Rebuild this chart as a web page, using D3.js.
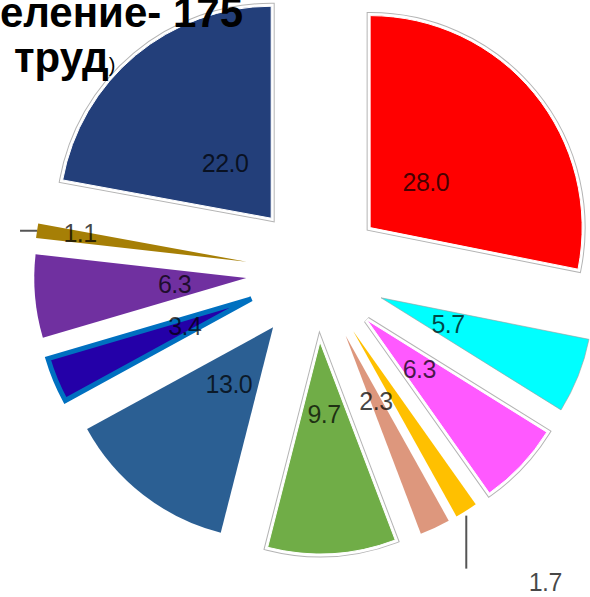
<!DOCTYPE html>
<head>
  <meta charset="utf-8">
  <title>index.html</title>
</head>
<style>
body { margin: 0; background: #fff; }
.title { font-family: "Liberation Sans", Arial, sans-serif; font-weight: bold; fill: #000; }
.lbl { font-family: "Liberation Sans", Arial, sans-serif; font-size: 25px; letter-spacing: -0.5px; fill: #000; fill-opacity: 0.72; }
</style>
<body>
<svg width="590" height="597"></svg>
<script src="https://d3js.org/d3.v7.min.js"></script>
<script>
// slice values (percent), clockwise from 12 o'clock
var values = [28.0, 5.7, 6.3, 1.7, 2.3, 9.7, 13.0, 3.4, 6.3, 1.1, 22.0];
var labels = ["28.0", "5.7", "6.3", "1.7", "2.3", "9.7", "13.0", "3.4", "6.3", "1.1", "22.0"];
var colors = ["#ff0000", "#00ffff", "#ff59ff", "#ffc000", "#dd977d", "#70ad47",
              "#2b5f93", "#2400a8", "#7030a0", "#a67f06", "#233f7a"];
// border kind per slice: "frame" = white + grey, "thin" = grey line, "blue" = thick blue, "" = none
var borders = ["frame", "thin", "frame", "", "", "frame", "", "blue", "", "", "frame"];
var outside = [3, 9];  // labels placed outside with a leader line
var titleLines = ["еление- 175", "труд"];

var svg = d3.select("svg"),
    cx = 316, cy = 272,
    radius = 212,
    explode = 70,
    labelR = 72;

var pie = d3.pie().sort(null).value(function(d) { return d; });
var arcs = pie(values);

var arc = d3.arc().innerRadius(0).outerRadius(radius);
var labelArc = d3.arc().innerRadius(labelR).outerRadius(labelR);

function offset(d) {
  var a = (d.startAngle + d.endAngle) / 2;
  return [cx + explode * Math.sin(a), cy - explode * Math.cos(a)];
}

var g = svg.selectAll("g.slice")
  .data(arcs)
  .enter().append("g")
    .attr("class", "slice")
    .attr("transform", function(d) { var o = offset(d); return "translate(" + o[0] + "," + o[1] + ")"; });

// outer grey line of framed slices
g.filter(function(d, i) { return borders[i] == "frame"; })
  .append("path")
    .attr("d", arc)
    .attr("fill", "none")
    .attr("stroke", "#b4b4b4")
    .attr("stroke-width", 7)
    .attr("stroke-linejoin", "miter");

g.filter(function(d, i) { return borders[i] == "frame"; })
  .append("path")
    .attr("d", arc)
    .attr("fill", "none")
    .attr("stroke", "#fff")
    .attr("stroke-width", 5)
    .attr("stroke-linejoin", "miter");

g.append("path")
  .attr("d", arc)
  .attr("fill", function(d, i) { return colors[i]; })
  .attr("stroke", function(d, i) {
    if (borders[i] == "thin") return "#9a9a9a";
    if (borders[i] == "blue") return "#0070c0";
    if (borders[i] == "frame") return "#fff";
    return "none";
  })
  .attr("stroke-width", function(d, i) {
    if (borders[i] == "blue") return 5;
    if (borders[i] == "frame") return 1;
    return 0.6;
  })
  .attr("stroke-linejoin", "miter");

// inside labels
g.filter(function(d, i) { return outside.indexOf(i) < 0; })
  .append("text")
    .attr("class", "lbl")
    .attr("transform", function(d) { return "translate(" + labelArc.centroid(d) + ")"; })
    .attr("text-anchor", "middle")
    .attr("dy", "0.36em")
    .text(function(d, i) { return labels[d.index]; });

// outside labels with leader lines
outside.forEach(function(i) {
  var d = arcs[i], o = offset(d);
  var a = (d.startAngle + d.endAngle) / 2;
  var tx = o[0] + radius * Math.sin(a), ty = o[1] - radius * Math.cos(a);
  var line, lx, ly;
  if (i == 3) {
    line = [[tx, ty + 5], [tx, ty + 58]];
    lx = tx + 79; ly = ty + 71;
  } else {
    line = [[tx - 17, ty], [tx, ty]];
    lx = tx + 43; ly = ty + 2;
  }
  svg.append("path")
    .attr("d", d3.line()(line))
    .attr("stroke", "#555")
    .attr("stroke-width", 2)
    .attr("fill", "none");
  svg.append("text")
    .attr("class", "lbl")
    .attr("x", lx).attr("y", ly)
    .attr("text-anchor", "middle")
    .attr("dy", "0.36em")
    .text(labels[i]);
});

// title (cropped in the source picture)
svg.append("text")
  .attr("class", "title")
  .attr("x", 243).attr("y", 27)
  .attr("text-anchor", "end")
  .style("font-size", "42px")
  .text(titleLines[0]);

var t2 = svg.append("text")
  .attr("class", "title")
  .attr("x", 14).attr("y", 72)
  .style("font-size", "42px");
t2.append("tspan").text(titleLines[1]);
t2.append("tspan").style("font-size", "20px").style("font-weight", "normal").text(")");
</script>
</body>
